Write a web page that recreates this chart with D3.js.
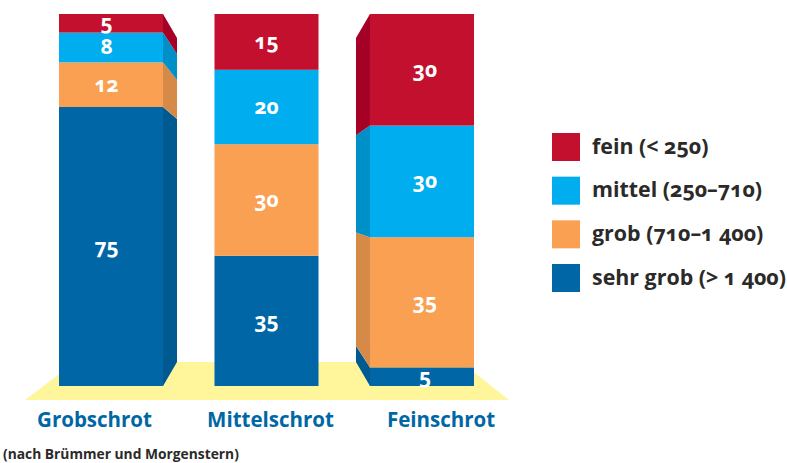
<!DOCTYPE html>
<html lang="de">
<head>
    <meta charset="UTF-8">
    <title>Schrotgrad</title>
    <script src="https://d3js.org/d3.v7.min.js"></script>
    <style>
        html, body { margin: 0; padding: 0; background: #fff; }
        svg { display: block; }
        text { font-family: 'Open Sans', sans-serif; font-weight: 700; font-feature-settings: "onum" 1, "lnum" 0; }
        .value { fill: #fff; font-size: 21px; text-anchor: middle; dominant-baseline: central; }
        .legend-label { fill: #2b2a29; font-size: 21.4px; }
        .source { fill: #2b2a29; font-size: 13.8px; }
        .axis text { fill: #0067a5; font-size: 20.5px; }
    </style>
</head>
<body>
    <svg width="787" height="463"></svg>
    <script>
        // values, bottom segment first
        var categories = ["Grobschrot", "Mittelschrot", "Feinschrot"];
        var segments = ["sehr grob", "grob", "mittel", "fein"];
        var sehrGrob = [75, 35, 5];
        var grob = [12, 30, 35];
        var mittel = [8, 20, 30];
        var fein = [5, 15, 30];
        var legendLabels = ["fein (< 250)", "mittel (250–710)", "grob (710–1 400)", "sehr grob (> 1 400)"];
        var legendOrder = ["fein", "mittel", "grob", "sehr grob"];
        var sourceNote = "(nach Brümmer und Morgenstern)";

        var front = d3.scaleOrdinal().domain(segments).range(["#0066a6", "#f9a052", "#00aeef", "#c4102f"]);
        var side = d3.scaleOrdinal().domain(segments).range(["#005a92", "#d68a48", "#0090c8", "#a50026"]);

        var svg = d3.select("svg");
        var x = d3.scaleBand().domain(categories).range([59, 474]).paddingInner(0.331).paddingOuter(0);
        var y = d3.scaleLinear().domain([0, 100]).range([386, 14]);

        var rows = categories.map(function(c, i) {
            return { category: c, "sehr grob": sehrGrob[i], "grob": grob[i], "mittel": mittel[i], "fein": fein[i] };
        });
        var series = d3.stack().keys(segments)(rows);

        // floor
        svg.append("polygon")
            .attr("points", [[75, 362], [461, 362], [509, 400], [25, 400]].join(" "))
            .attr("fill", "#fff59b");

        // perspective: back edge of the block shrinks towards the middle
        var depth = 14, k = 0.871, midY = 200;
        function backY(v) { return midY + (y(v) - midY) * k; }
        // first bar shows its right side, last bar its left side, middle none
        function sideOf(cat) {
            if (cat === categories[0]) return { edge: x(cat) + x.bandwidth(), back: x(cat) + x.bandwidth() + depth };
            if (cat === categories[2]) return { edge: x(cat), back: x(cat) - depth };
            return null;
        }

        series.forEach(function(s) {
            var g = svg.append("g");
            g.selectAll("polygon").data(s.filter(function(d) { return sideOf(d.data.category); }))
                .enter().append("polygon")
                .attr("fill", side(s.key))
                .attr("points", function(d) {
                    var f = sideOf(d.data.category);
                    return [[f.edge, y(d[0])], [f.back, backY(d[0])], [f.back, backY(d[1])], [f.edge, y(d[1])]].join(" ");
                });
            g.selectAll("rect").data(s).enter().append("rect")
                .attr("x", function(d) { return x(d.data.category); })
                .attr("width", x.bandwidth())
                .attr("y", function(d) { return y(d[1]); })
                .attr("height", function(d) { return y(d[0]) - y(d[1]); })
                .attr("fill", front(s.key));
        });

        // value labels sit a bit off centre in the original
        var labelShift = [-4.5, 0, 3];
        series.forEach(function(s) {
            svg.append("g").selectAll("text").data(s).enter().append("text")
                .attr("class", "value")
                .attr("x", function(d, i) { return x(d.data.category) + x.bandwidth() / 2 + labelShift[i]; })
                .attr("y", function(d) { return (y(d[0]) + y(d[1])) / 2 - 1; })
                .text(function(d) { return d[1] - d[0]; });
        });

        // category labels
        var axisShift = [-16.5, 4, 19];
        var axis = svg.append("g").attr("class", "axis")
            .attr("transform", "translate(0,408)")
            .call(d3.axisBottom(x).tickSize(0).tickPadding(4));
        axis.select(".domain").remove();
        axis.selectAll("text").attr("dx", function(d, i) { return axisShift[i]; });

        // legend
        var legendY = d3.scalePoint().domain(legendOrder).range([133, 264]);
        var legend = svg.append("g").selectAll("g").data(legendOrder).enter().append("g")
            .attr("transform", function(d) { return "translate(552," + legendY(d) + ")"; });
        legend.append("rect").attr("width", 28).attr("height", 28).attr("fill", function(d) { return front(d); });
        legend.append("text").attr("class", "legend-label")
            .attr("x", 40).attr("y", 20.5)
            .text(function(d, i) { return legendLabels[i]; });

        svg.append("text").attr("class", "source").attr("x", 3).attr("y", 459).text(sourceNote);
    </script>
</body>
</html>
